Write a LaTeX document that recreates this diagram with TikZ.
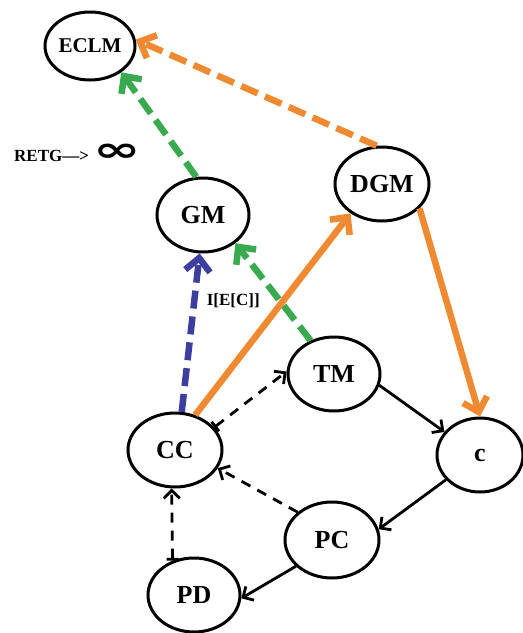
\documentclass[tikz,border=0pt]{standalone}
\usepackage{fontspec}
\setmainfont{Liberation Serif}
\newfontfamily\symfont{DejaVu Sans}
\usetikzlibrary{arrows.meta,shapes.geometric}
\definecolor{arrorange}{RGB}{240,138,50}
\definecolor{arrgreen}{RGB}{58,170,80}
\definecolor{arrblue}{RGB}{60,62,160}

\begin{document}
\begin{tikzpicture}[x=1pt,y=-1pt,
		ell/.style={draw, ellipse, line width=3pt, minimum width=92pt, minimum height=74pt, inner sep=0pt, font=\fontsize{26}{26}\selectfont\bfseries},
		thin/.style={line width=2.8pt, -{Straight Barb[length=8pt,width=16pt]}},
		thick/.style={line width=6.5pt, -{Straight Barb[length=13pt,width=25pt]}},
		longdash/.style={dash pattern=on 18pt off 8pt},
		shortdash/.style={dash pattern=on 10pt off 8pt}]
		\useasboundingbox (0,0) rectangle (523,633);
		\node[ell, minimum width=90pt, minimum height=68pt, font=\fontsize{21}{21}\selectfont\bfseries] at (90,46) (eclm) {ECLM};
		\node[ell] at (203,215) (gm) {GM};
		\node[ell, minimum width=94pt] at (382,184) (dgm) {DGM};
		\node[ell] at (334,374) (tm) {TM};
		\node[ell, minimum width=86pt] at (480,455) (c) {c};
		\node[ell, minimum width=94pt] at (175,450) (cc) {CC};
		\node[ell, minimum width=94pt, minimum height=76pt] at (332,540) (pc) {PC};
		\node[ell] at (194,595) (pd) {PD};
		\node[font=\fontsize{17}{17}\selectfont\bfseries, anchor=west, inner sep=0pt] at (14,153) (retg) {RETG---> \scalebox{1.9}[1.15]{\symfont\bfseries\fontsize{30}{30}\selectfont ∞}};
		% colored connections
		\draw[thick, longdash, arrorange] (dgm.98) -- (eclm.8);
		\draw[thick, longdash, arrgreen] (gm.100) -- (eclm.-40);
		\draw[thick, longdash, arrgreen] (tm.125) -- (gm.-41);
		\draw[thick, longdash, arrblue] (cc.80) -- node[pos=0.7, anchor=west, xshift=6pt, black, font=\fontsize{17}{17}\selectfont\bfseries] {I[E[C]]} (gm.265);
		\draw[thick, arrorange] (cc.60) -- (dgm.223);
		\draw[thick, arrorange] (dgm.-33) -- (c.north);
		% black connections
		\draw[thin] (tm.-14) -- (c.147);
		\draw[thin] (c.216) -- (pc.13);
		\draw[thin] (pc.216) -- (pd.-4);
		\draw[thin, shortdash, {Bar[width=12pt]}-{Straight Barb[length=8pt,width=16pt]}] (cc.30) -- (tm.177);
		\draw[thin, shortdash] (pc.141) -- (cc.-23);
		\draw[thin, shortdash, {Bar[width=12pt]}-{Straight Barb[length=8pt,width=16pt]}] (pd.122) -- (cc.265);
\end{tikzpicture}
\end{document}
